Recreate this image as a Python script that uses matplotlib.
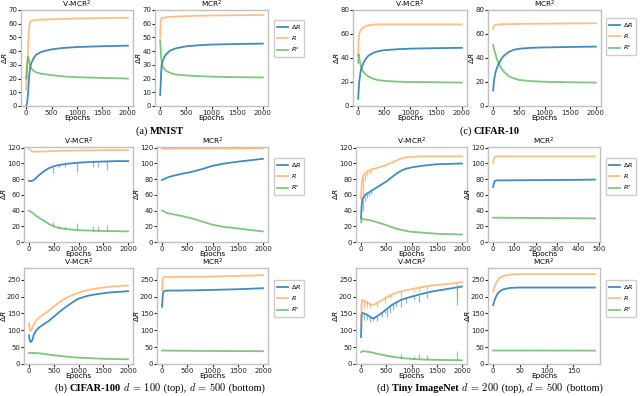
import matplotlib

matplotlib.use("Agg")
import matplotlib.pyplot as plt
import numpy as np
from matplotlib.offsetbox import TextArea, HPacker, AnnotationBbox

# ---------------- data ----------------
# MNIST, V-MCR^2
mnist_v_ep = [0, 20, 40, 60, 80, 100, 150, 200, 300, 500, 750, 1000, 1500, 2000]
mnist_v_dr = [0, 2, 10, 22, 28, 31, 35, 37.5, 39.5, 41.3, 42.4, 43, 43.6, 44]
mnist_v_r = [12, 25, 45, 58, 61, 62, 62.5, 62.8, 63, 63.2, 63.5, 63.8, 64.2, 64.3]
mnist_v_rc = [20, 30, 36, 33, 29, 27.5, 25.5, 24.5, 23.5, 22.5, 21.5, 21, 20.5, 20]

# MNIST, MCR^2
mnist_m_ep = [0, 10, 20, 30, 50, 80, 100, 150, 200, 300, 500, 750, 1000, 1500, 2000]
mnist_m_dr = [8, 15, 25, 30, 33, 35.5, 37, 39, 40.5, 42, 43.5, 44.3, 44.8, 45.2, 45.5]
mnist_m_r = [50, 62, 63.5, 64, 64.3, 64.5, 64.6, 64.8, 65, 65.2, 65.5, 65.8, 66, 66.2, 66.3]
mnist_m_rc = [48, 42, 35, 32, 29, 27, 26, 25, 24, 23, 22.3, 21.8, 21.4, 21, 20.8]

# CIFAR-10, V-MCR^2
c10_v_ep = [0, 10, 20, 40, 60, 100, 150, 200, 300, 400, 500, 750, 1000, 1500, 2000]
c10_v_dr = [6, 14, 20, 27, 31, 36, 39.5, 42, 44.5, 45.8, 46.5, 47.3, 47.8, 48.2, 48.5]
c10_v_r = [42, 55, 60, 62.5, 64, 65.5, 66.5, 67.2, 67.8, 68, 68, 68, 68, 68, 68]
c10_v_rc = [36, 43, 40, 35, 32, 28.5, 26, 24.5, 22.5, 21.5, 21, 20.3, 20, 19.8, 19.5]

# CIFAR-10, MCR^2
c10_m_ep = [0, 10, 20, 40, 60, 100, 150, 200, 300, 400, 500, 750, 1000, 1500, 2000]
c10_m_dr = [13, 18, 22, 27, 30, 34.5, 38.5, 41.5, 45, 46.8, 47.7, 48.5, 48.8, 49.2, 49.5]
c10_m_r = [64, 66, 67, 67.5, 67.7, 67.9, 68, 68.1, 68.2, 68.3, 68.4, 68.5, 68.6, 68.8, 69]
c10_m_rc = [51, 49, 47, 44, 41, 36, 32, 29, 25, 23, 21.7, 20.7, 20.2, 19.8, 19.5]

# CIFAR-100 d=100, V-MCR^2
c100a_v_ep = [0, 50, 100, 150, 200, 300, 400, 500, 600, 750, 1000, 1250, 1500, 1750, 2000]
c100a_v_dr = [78, 77.5, 79, 82, 85, 90, 94, 96.5, 98, 99.5, 101, 102, 102.5, 103, 103]
c100a_v_r = [118, 116, 115, 115, 115, 115.3, 115.5, 116, 116, 116.3, 116.5, 116.7, 117, 117, 117]
c100a_v_rc = [40, 38, 36, 33, 31, 27, 23, 20, 18, 16.5, 15, 14.5, 14, 13.8, 13.5]
c100a_spike_ep = [480, 600, 730, 960, 1290, 1400, 1580]
c100a_spike_dr = [88, 95, 95, 89, 95, 96, 92]
c100a_spike_rc = [25, 21, 20, 24, 21, 20, 22]

# CIFAR-100 d=100, MCR^2
c100a_m_ep = [0, 100, 200, 400, 600, 800, 1000, 1200, 1400, 1600, 1800, 2000]
c100a_m_dr = [79, 82, 84, 87, 89.5, 93, 97, 99.5, 101.5, 103, 104.5, 106]
c100a_m_r = [118.8, 118.9, 119, 119, 119, 119, 119, 119.1, 119.1, 119.2, 119.2, 119.3]
c100a_m_rc = [40, 37, 35.5, 33, 30, 26, 22, 19.5, 18, 16.5, 15, 13.5]

# Tiny ImageNet d=200, V-MCR^2
tina_v_ep = [0, 10, 20, 40, 60, 100, 150, 200, 300, 400, 500, 600, 700, 800, 900, 1000, 1200, 1500, 2000]
tina_v_dr = [30, 45, 52, 56, 58, 61, 63, 65, 69, 73, 77, 82, 87, 91, 93.5, 95, 97, 99, 100]
tina_v_r = [55, 70, 78, 84, 86, 89, 91, 92.5, 94, 96, 98, 101, 104, 106.5, 108, 108.5, 109, 109, 109]
tina_v_rc = [25, 28, 29, 29, 29, 28.5, 28, 27.5, 25.5, 23.5, 21.5, 19, 17, 15.5, 14, 13, 12, 10.5, 9.5]
tina_spike_ep = [30, 70, 110, 150, 190]
tina_spike_dr = [40, 52, 56, 58, 61]
tina_spike_r = [60, 78, 84, 86, 88]

# Tiny ImageNet d=200, MCR^2
tina_m_ep = [0, 5, 10, 20, 50, 100, 200, 300, 400, 480]
tina_m_dr = [70, 76, 78, 78.5, 78.5, 78.6, 78.8, 79, 79.2, 79.5]
tina_m_r = [101, 107, 108.5, 109, 109, 109, 109, 109, 109, 109]
tina_m_rc = [31, 31, 31, 31, 30.9, 30.8, 30.6, 30.4, 30.2, 30]

# CIFAR-100 d=500, V-MCR^2
c100b_v_ep = [0, 20, 40, 70, 100, 150, 200, 300, 400, 500, 600, 750, 900, 1000, 1200, 1400, 1600, 1800, 2000]
c100b_v_r = [120, 100, 98, 108, 118, 130, 138, 148, 158, 170, 182, 196, 206, 212, 220, 225, 229, 231, 233]
c100b_v_dr = [85, 68, 65, 72, 88, 100, 108, 118, 128, 140, 153, 170, 185, 194, 203, 208, 212, 214, 216]
c100b_v_rc = [33, 33, 32.5, 32.5, 32.5, 32.5, 32, 30, 28, 26, 24.5, 22, 20, 19, 17.5, 16, 15, 14.5, 14]

# CIFAR-100 d=500, MCR^2
c100b_m_ep = [0, 10, 20, 30, 50, 100, 300, 500, 750, 1000, 1250, 1500, 1750, 2000]
c100b_m_dr = [170, 195, 210, 215, 217, 218, 218, 218.5, 219, 220, 221, 222, 223.5, 225]
c100b_m_r = [220, 245, 255, 258, 258.5, 258.5, 258.5, 258.7, 259, 259.5, 260.5, 261.5, 262.5, 264]
c100b_m_rc = [40, 40, 40, 40, 40, 39.8, 39.5, 39.2, 39, 38.7, 38.5, 38.3, 38.1, 38]

# Tiny ImageNet d=500, V-MCR^2
tinb_v_ep = [0, 10, 20, 50, 100, 150, 200, 250, 300, 400, 500, 600, 700, 800, 1000, 1200, 1400, 1600, 1800, 2000]
tinb_v_r = [120, 175, 190, 188, 185, 180, 177, 175, 180, 188, 198, 206, 211, 216, 222, 228, 233, 236, 239, 243]
tinb_v_dr = [80, 140, 152, 150, 148, 143, 138, 135, 140, 150, 162, 174, 183, 191, 200, 208, 215, 220, 225, 230]
tinb_v_rc = [35, 37, 38, 38, 37, 36, 35, 33, 31, 28, 25, 22, 20, 18, 15, 13.5, 12.5, 12, 11.5, 11]
tinb_spike_dr_ep = [60, 120, 180, 230, 310, 420, 470, 520, 570, 640, 700, 800, 900, 1050, 1150, 1300, 1900]
tinb_spike_dr = [130, 130, 125, 128, 128, 140, 150, 140, 150, 160, 168, 170, 180, 190, 185, 195, 175]
tinb_spike_r_ep = [60, 120, 180, 310, 470, 570, 800, 1050, 1150, 1300, 1900]
tinb_spike_r = [165, 165, 165, 170, 180, 195, 200, 215, 215, 220, 200]
tinb_spike_rc_ep = [470, 570, 640, 800, 1050, 1150, 1300, 1900]
tinb_spike_rc = [25, 28, 24, 30, 25, 30, 26, 38]

# Tiny ImageNet d=500, MCR^2
tinb_m_ep = [0, 3, 6, 10, 15, 20, 30, 40, 50, 100, 150, 190]
tinb_m_r = [215, 230, 242, 252, 258, 262, 265, 266.5, 267, 267, 267, 267]
tinb_m_dr = [175, 190, 202, 212, 218, 222, 225.5, 226.5, 227, 227, 227, 227]
tinb_m_rc = [40, 40, 40, 40, 40, 40, 40, 40, 40, 39.9, 39.8, 39.8]

# ---------------- style ----------------
C_DR = "#1f77b4"
C_R = "#ff7f0e"
C_RC = "#2ca02c"
A_DR, A_R, A_RC = 0.85, 0.5, 0.6
LW = 1.3
SPINE = "#c0c0c0"
FS_TICK = 5
FS_LAB = 5.3

plt.rcParams.update({
    "font.family": "DejaVu Sans",
    "font.size": FS_TICK,
    "xtick.labelsize": FS_TICK,
    "ytick.labelsize": FS_TICK,
    "xtick.major.size": 2,
    "ytick.major.size": 2,
    "xtick.major.pad": 1,
    "ytick.major.pad": 0.6,
    "xtick.color": "#222222",
    "ytick.color": "#222222",
})

W, H = 640, 396
fig = plt.figure(figsize=(W / 100, H / 100), dpi=100)


def px_axes(l, t, r, b):
    return fig.add_axes([l / W, 1 - b / H, (r - l) / W, (b - t) / H])


def spikes(ax, ep, curve_ep, curve, tips, color, alpha):
    base = np.interp(ep, curve_ep, curve)
    ax.vlines(ep, base, tips, color=color, alpha=alpha, lw=0.9)


def panel(box, title, ep, dr, r, rc, ylim, yticks, xticks):
    ax = px_axes(*box)
    l1, = ax.plot(ep, dr, color=C_DR, alpha=A_DR, lw=LW, label=r"$\Delta R$")
    l2, = ax.plot(ep, r, color=C_R, alpha=A_R, lw=LW, label=r"$R$")
    l3, = ax.plot(ep, rc, color=C_RC, alpha=A_RC, lw=LW, label=r"$R^c$")
    ax.set_ylim(*ylim)
    ax.set_yticks(yticks)
    ax.set_xticks(xticks)
    ax.set_title(title, fontsize=FS_LAB, pad=0.5)
    ax.set_xlabel("Epochs", fontsize=FS_LAB, labelpad=-0.5)
    ax.set_ylabel(r"$\Delta R$", fontsize=FS_LAB, labelpad=-0.5)
    for sp in ax.spines.values():
        sp.set_color(SPINE)
        sp.set_linewidth(1.0)
    return ax, [l1, l2, l3]


def legend(handles, x, y):
    fig.legend(handles=handles, loc="upper left", bbox_to_anchor=(x / W, 1 - y / H),
               fontsize=4.6, frameon=True, edgecolor="#cccccc", framealpha=1,
               handlelength=1.7, borderpad=0.45, labelspacing=0.55, handletextpad=0.5,
               borderaxespad=0)


def caption(parts, x, y):
    boxes = []
    for txt, bold, math in parts:
        props = dict(family="Liberation Serif", size=7.5, color="black",
                     weight="bold" if bold else "normal")
        if math:
            props["math_fontfamily"] = "cm"
        boxes.append(TextArea(txt, textprops=props))
    pack = HPacker(children=boxes, align="baseline", pad=0, sep=0)
    ab = AnnotationBbox(pack, (x / W, 1 - y / H), xycoords="figure fraction",
                        frameon=False, box_alignment=(0.5, 0.5), pad=0)
    fig.add_artist(ab)


X2000 = [0, 500, 1000, 1500, 2000]
VT = "V-MCR$^2$"
MT = "MCR$^2$"

# Row 1: MNIST
ax, h = panel((21, 10, 133, 106), VT, mnist_v_ep, mnist_v_dr, mnist_v_r, mnist_v_rc,
              (0, 70), range(0, 71, 10), X2000)
ax, h = panel((155, 10, 268, 106), MT, mnist_m_ep, mnist_m_dr, mnist_m_r, mnist_m_rc,
              (0, 70), range(0, 71, 10), X2000)
legend(h, 274, 20)

# Row 1: CIFAR-10
ax, h = panel((353, 10, 467, 106), VT, c10_v_ep, c10_v_dr, c10_v_r, c10_v_rc,
              (0, 80), range(0, 81, 20), X2000)
ax, h = panel((488, 10, 601, 106), MT, c10_m_ep, c10_m_dr, c10_m_r, c10_m_rc,
              (0, 80), range(0, 81, 20), X2000)
legend(h, 606, 18)

# Row 2: CIFAR-100 d=100
ax, h = panel((24, 147, 133, 242), VT, c100a_v_ep, c100a_v_dr, c100a_v_r, c100a_v_rc,
              (0, 121), range(0, 121, 20), X2000)
spikes(ax, c100a_spike_ep, c100a_v_ep, c100a_v_dr, c100a_spike_dr, C_DR, A_DR * 0.6)
spikes(ax, c100a_spike_ep, c100a_v_ep, c100a_v_rc, c100a_spike_rc, C_RC, A_RC * 0.8)
ax, h = panel((157, 147, 268, 242), MT, c100a_m_ep, c100a_m_dr, c100a_m_r, c100a_m_rc,
              (0, 121), range(0, 121, 20), X2000)
legend(h, 274, 158)

# Row 2: Tiny ImageNet d=200
ax, h = panel((356, 147, 467, 242), VT, tina_v_ep, tina_v_dr, tina_v_r, tina_v_rc,
              (0, 121), range(0, 121, 20), X2000)
spikes(ax, tina_spike_ep, tina_v_ep, tina_v_dr, tina_spike_dr, C_DR, A_DR * 0.6)
spikes(ax, tina_spike_ep, tina_v_ep, tina_v_r, tina_spike_r, C_R, A_R)
ax, h = panel((488, 147, 600, 242), MT, tina_m_ep, tina_m_dr, tina_m_r, tina_m_rc,
              (0, 121), range(0, 121, 20), [0, 100, 200, 300, 400, 500])
legend(h, 606, 158)

# Row 3: CIFAR-100 d=500
ax, h = panel((24, 268, 133, 364), VT, c100b_v_ep, c100b_v_dr, c100b_v_r, c100b_v_rc,
              (0, 285), range(0, 251, 50), X2000)
ax, h = panel((157, 268, 268, 364), MT, c100b_m_ep, c100b_m_dr, c100b_m_r, c100b_m_rc,
              (0, 285), range(0, 251, 50), X2000)
legend(h, 274, 280)

# Row 3: Tiny ImageNet d=500
ax, h = panel((356, 268, 467, 364), VT, tinb_v_ep, tinb_v_dr, tinb_v_r, tinb_v_rc,
              (0, 285), range(0, 251, 50), X2000)
spikes(ax, tinb_spike_dr_ep, tinb_v_ep, tinb_v_dr, tinb_spike_dr, C_DR, A_DR * 0.6)
spikes(ax, tinb_spike_r_ep, tinb_v_ep, tinb_v_r, tinb_spike_r, C_R, A_R)
spikes(ax, tinb_spike_rc_ep, tinb_v_ep, tinb_v_rc, tinb_spike_rc, C_RC, A_RC * 0.8)
ax, h = panel((488, 268, 600, 364), MT, tinb_m_ep, tinb_m_dr, tinb_m_r, tinb_m_rc,
              (0, 285), range(0, 251, 50), [0, 50, 100, 150])
legend(h, 606, 280)

# captions
caption([("(a) ", False, False), ("MNIST", True, False)], 160, 131)
caption([("(c) ", False, False), ("CIFAR-10", True, False)], 490, 131)
caption([("(b) ", False, False), ("CIFAR-100", True, False), (r" $d\,=\,100$", False, True),
         (" (top), ", False, False), (r"$d\,=\,500$", False, True), (" (bottom)", False, False)],
        160, 387)
caption([("(d) ", False, False), ("Tiny ImageNet", True, False), (r" $d\,=\,200$", False, True),
         (" (top), ", False, False), (r"$d\,=\,500$", False, True), (" (bottom)", False, False)],
        490, 387)

fig.savefig("out.png", dpi=100)
